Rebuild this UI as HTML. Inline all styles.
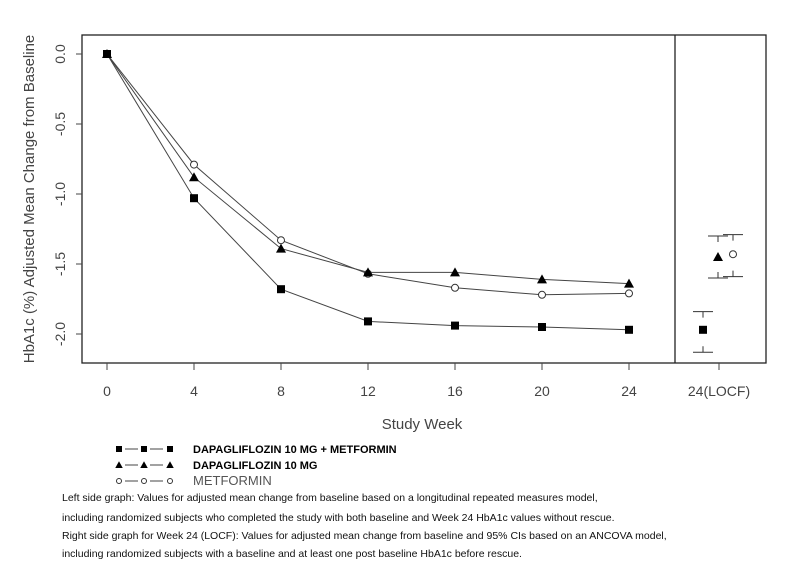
<!DOCTYPE html>
<html><head><meta charset="utf-8"><style>
body{margin:0;background:#fff;font-family:"Liberation Sans",Arial,sans-serif}
svg{display:block}
.note{position:absolute;left:62px;font-size:10.5px;color:#111}
</style></head><body>
<div style="position:relative;width:803px;height:568px">
<svg id="chart" width="803" height="568"></svg>
<div class="note" style="top:492px">Left side graph: Values for adjusted mean change from baseline based on a longitudinal repeated measures model,</div>
<div class="note" style="top:512px">including randomized subjects who completed the study with both baseline and Week 24 HbA1c values without rescue.</div>
<div class="note" style="top:530px">Right side graph for Week 24 (LOCF): Values for adjusted mean change from baseline and 95% CIs based on an ANCOVA model,</div>
<div class="note" style="top:548px">including randomized subjects with a baseline and at least one post baseline HbA1c before rescue.</div>
</div>
<script>
const weeks=[0,4,8,12,16,20,24];
const dapaMet=[0,-1.03,-1.68,-1.91,-1.94,-1.95,-1.97];
const dapa=[0,-0.88,-1.39,-1.56,-1.56,-1.61,-1.64];
const met=[0,-0.79,-1.33,-1.57,-1.67,-1.72,-1.71];
const yTicks=[0,-0.5,-1,-1.5,-2];
const yTickLabels=["0.0","-0.5","-1.0","-1.5","-2.0"];
const locfMean=[-1.97,-1.45,-1.43];
const locfLo=[-2.13,-1.60,-1.59];
const locfHi=[-1.84,-1.30,-1.29];
const NS="http://www.w3.org/2000/svg";
const svg=document.getElementById('chart');
const X=w=>107+w*87/4;
const Y=v=>54-v*140;
function el(t,a,p){const e=document.createElementNS(NS,t);for(const k in a)e.setAttribute(k,a[k]);(p||svg).appendChild(e);return e;}
let r=el('rect',{x:82,y:35,width:684,height:328,fill:'none',stroke:'#222','stroke-width':1.3});


let d=el('line',{x1:675,y1:35,x2:675,y2:363,stroke:'#222','stroke-width':1.3});


yTicks.forEach((v,i)=>{
 el('line',{x1:76,x2:82,y1:Y(v),y2:Y(v),stroke:'#444'});
 const t=el('text',{x:0,y:0,transform:`translate(65,${Y(v)}) rotate(-90)`,'text-anchor':'middle','font-size':14,fill:'#444'});
 t.textContent=yTickLabels[i];
 
 
});
weeks.forEach(w=>{
 el('line',{x1:X(w),x2:X(w),y1:363,y2:370,stroke:'#444'});
 const t=el('text',{x:X(w),y:396,'text-anchor':'middle','font-size':14,fill:'#444'});
 t.textContent=w;
 
 
});
el('line',{x1:719,x2:719,y1:363,y2:370,stroke:'#444'});
let lt=el('text',{x:719,y:396,'text-anchor':'middle','font-size':14,fill:'#444'});lt.textContent='24(LOCF)';


let xt=el('text',{x:422,y:429,'text-anchor':'middle','font-size':15,fill:'#444'});xt.textContent='Study Week';


let yt=el('text',{x:0,y:0,transform:'translate(34,199) rotate(-90)','text-anchor':'middle','font-size':15,fill:'#444'});yt.textContent='HbA1c (%) Adjusted Mean Change from Baseline';


function marker(type,x,y,g){
 if(type==='sq')return el('rect',{x:x-4,y:y-4,width:8,height:8,fill:'#000'},g);
 if(type==='tri')return el('polygon',{points:`${x},${y-5} ${x-5},${y+4} ${x+5},${y+4}`,fill:'#000'},g);
 return el('circle',{cx:x,cy:y,r:3.5,fill:'#fff',stroke:'#333','stroke-width':1},g);
}
const series=[[met,'circ','series-metformin'],[dapa,'tri','series-dapagliflozin'],[dapaMet,'sq','series-dapagliflozin-metformin']];
series.forEach(([vals,m,name])=>{
 const g=el('g',{});
 
 
 el('polyline',{points:weeks.map((w,i)=>X(w)+','+Y(vals[i])).join(' '),fill:'none',stroke:'#444','stroke-width':1},g);
 weeks.forEach((w,i)=>{const p=marker(m,X(w),Y(vals[i]),g);
  
  });
});
const lx=[703,718,733];const mk=['sq','tri','circ'];
locfMean.forEach((v,i)=>{
 const g=el('g',{});
 
 
 const x=lx[i];
 [locfLo[i],locfHi[i]].forEach(b=>{
  el('line',{x1:x-10,x2:x+10,y1:Y(b),y2:Y(b),stroke:'#333'},g);
  el('line',{x1:x,x2:x,y1:Y(b),y2:Y(b)+(b>v?6:-6),stroke:'#333'},g);
 });
 marker(mk[i],x,Y(v),g);
});
const leg=[['sq','DAPAGLIFLOZIN 10 MG + METFORMIN',449,'bold',11,'#000'],['tri','DAPAGLIFLOZIN 10 MG',465,'bold',11,'#000'],['circ','METFORMIN',481,'normal',13,'#555']];
leg.forEach(([m,l,y,fw,fs,c])=>{
 const g=el('g',{});
 
 
 el('line',{x1:125,x2:138,y1:y,y2:y,stroke:'#444'},g);
 el('line',{x1:150,x2:163,y1:y,y2:y,stroke:'#444'},g);
 [119,144,170].forEach(x=>{const p=marker(m,x,y,g);if(m!=='circ'){p.setAttribute('transform',`translate(${x},${y}) scale(0.75) translate(${-x},${-y})`);}else p.setAttribute('r',2.5);});
 const t=el('text',{x:193,y:y+4,'font-size':fs,'font-weight':fw,fill:c},g);t.textContent=l;
});
</script>
</body></html>
